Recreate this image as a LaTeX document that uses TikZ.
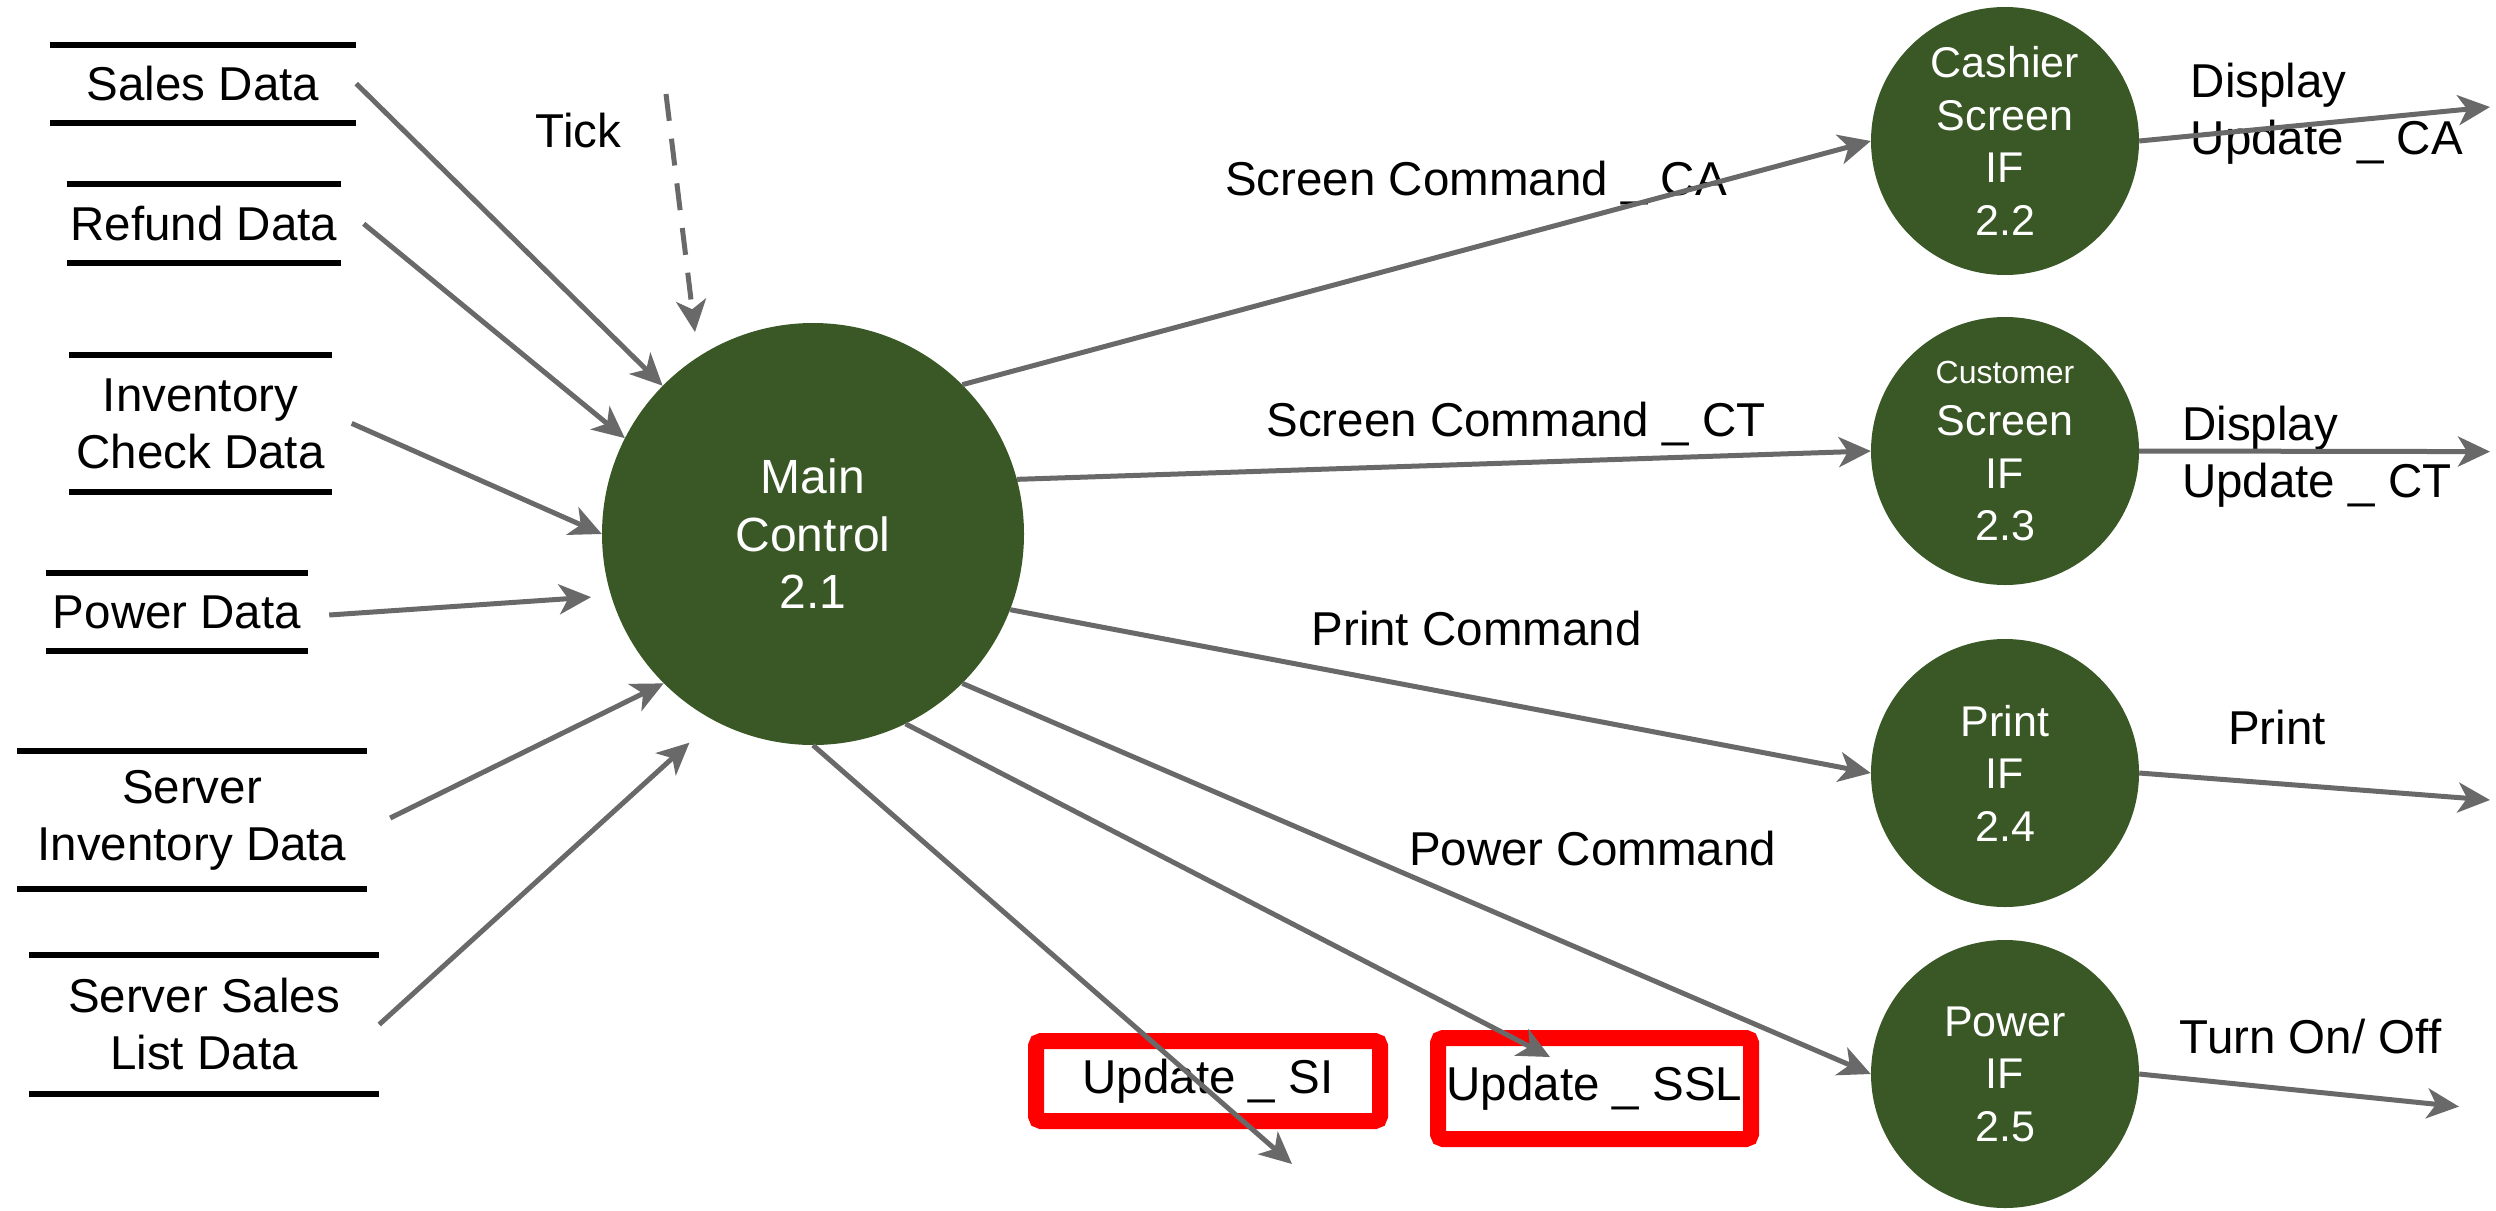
\documentclass[tikz,border=0pt]{standalone}
\usepackage{fontspec}
\setmainfont{Liberation Sans}
\usetikzlibrary{arrows.meta,calc}
\definecolor{dfdgreen}{RGB}{58,87,38}
\definecolor{flowgray}{RGB}{105,105,105}
\definecolor{boxred}{RGB}{255,0,0}
\newcommand{\dfdlabel}{\fontsize{47.5}{57}\selectfont}
\newcommand{\dfdproc}{\fontsize{43}{52.5}\selectfont}
\newcommand{\dfdmain}{\fontsize{48}{57.5}\selectfont}
\newcommand{\dfdsmall}{\fontsize{32}{52.5}\selectfont}
\begin{document}
\begin{tikzpicture}[x=1pt,y=-1pt,
  flow/.style={draw=flowgray, line width=5pt, -{Stealth[length=32pt,width=30pt,inset=9pt]}},
  tickflow/.style={flow, dash pattern=on 27pt off 18pt},
  store/.style={inner sep=0pt, align=center, font=\dfdlabel},
  storeline/.style={draw=black, line width=6pt},
  proc/.style={circle, fill=dfdgreen, text=white, inner sep=0pt, minimum size=268pt, align=center, font=\dfdproc},
  mainproc/.style={proc, minimum size=422pt, font=\dfdmain},
  lab/.style={inner sep=0pt, font=\dfdlabel},
  redbox/.style={draw=boxred, line width=16pt, rounded corners=5pt, inner sep=0pt, font=\dfdlabel}
]
\useasboundingbox (0,0) rectangle (2496,1210);

% processes
\node[mainproc] (main) at (813,534) {Main\\Control\\2.1};
\node[proc] (cash) at (2005,141) {Cashier\\Screen\\IF\\2.2};
\node[proc] (cust) at (2005,451) {{\dfdsmall Customer}\\Screen\\IF\\2.3};
\node[proc] (print) at (2005,773) {Print\\IF\\2.4};
\node[proc] (power) at (2005,1074) {Power\\IF\\2.5};

% data stores
\node[store, minimum width=306pt, minimum height=77.7pt] (ds1) at (203,83.6) {Sales Data};
\node[store, minimum width=273pt, minimum height=78.5pt] (ds2) at (204,223.8) {Refund Data};
\node[store, minimum width=262pt, minimum height=137pt] (ds3) at (200.5,423.4) {Inventory\\Check Data};
\node[store, minimum width=262pt, minimum height=77pt] (ds4) at (177,612) {Power Data};
\node[store, minimum width=350pt, minimum height=138pt] (ds5) at (192,820) {Server\\Inventory Data};
\node[store, minimum width=350pt, minimum height=139pt] (ds6) at (204,1024.5) {Server Sales\\List Data};
\foreach \s in {ds1,ds2,ds3,ds4,ds5,ds6}{
  \draw[storeline] (\s.north west) -- (\s.north east) (\s.south west) -- (\s.south east);
}

% labels
\node[lab, anchor=base] (ltick) at (578.5,147.3) {Tick};
\node[lab, anchor=base] (lca) at (1476,195) {Screen Command \_ CA};
\node[lab, anchor=base] (lct) at (1516,436.7) {Screen Command \_ CT};
\node[lab, anchor=base] (lpc) at (1476.5,645) {Print Command};
\node[lab, anchor=base] (lpw) at (1592.5,865) {Power Command};
\node[lab, anchor=west, align=left] (ldca) at (2190.6,114) {Display\\Update \_ CA};
\node[lab, anchor=west, align=left] (ldct) at (2182,457) {Display\\Update \_ CT};
\node[lab, anchor=base] (lpr) at (2277,744) {Print};
\node[lab, anchor=base] (lto) at (2310.5,1053) {Turn On/ Off};

% highlighted flows
\node[redbox, minimum width=344pt, minimum height=80pt] (bsi) at (1208,1081) {Update \_ SI};
\node[redbox, minimum width=313pt, minimum height=101pt] (bssl) at (1594.5,1088.5) {Update \_ SSL};

% free ends
\coordinate (tickstart) at (666,94);
\coordinate (siend) at (1292,1164);
\coordinate (sslend) at (1550,1057);
\coordinate (caend) at (2490,107);
\coordinate (ctend) at (2490,451.6);
\coordinate (prend) at (2490,800);
\coordinate (pwend) at (2459,1106.6);

% inflows
\draw[flow] (ds1.east) -- (main);
\draw[flow] ($(ds2.east)+(23,0)$) -- (main.153);
\draw[flow] ($(ds3.east)+(20,0)$) -- (main.180);
\draw[flow, shorten >=20pt] ($(ds4.east)+(21,3)$) -- (main.197);
\draw[flow] ($(ds5.east)+(23,-2)$) -- (main.225);
\draw[flow, shorten >=33pt] (ds6.east) -- (main.242);
\draw[tickflow, shorten >=25pt] (tickstart) -- (main.123);

% outflows
\draw[flow] (main.45) -- (cash.west);
\draw[flow] (main.15) -- (cust.west);
\draw[flow] (main.-21) -- (print.west);
\draw[flow] (main.-45) -- (power.west);
\draw[flow] (main.-64) -- (sslend);
\draw[flow] (main.-90) -- (siend);
\draw[flow] (cash.east) -- (caend);
\draw[flow] (cust.east) -- (ctend);
\draw[flow] (print.east) -- (prend);
\draw[flow] (power.east) -- (pwend);
\end{tikzpicture}
\end{document}
